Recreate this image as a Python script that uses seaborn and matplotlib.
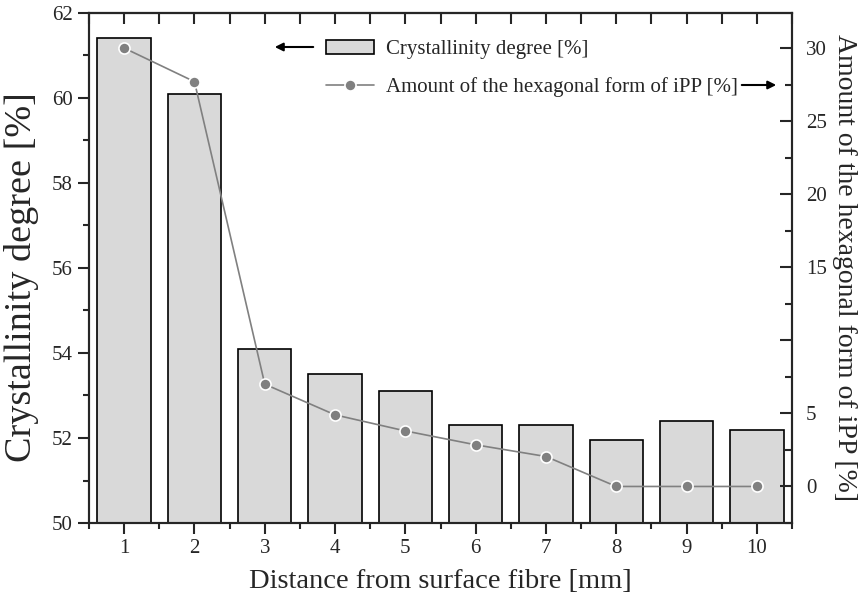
import numpy as np
import pandas as pd
import matplotlib
matplotlib.use("Agg")
import matplotlib.pyplot as plt
import seaborn as sns
from matplotlib.ticker import MultipleLocator, FixedLocator, FixedFormatter

# --- data ---
distance = [1, 2, 3, 4, 5, 6, 7, 8, 9, 10]
crystallinity = [61.4, 60.1, 54.1, 53.5, 53.1, 52.3, 52.3, 51.95, 52.4, 52.2]
hexagonal = [30.0, 27.7, 7.0, 4.9, 3.8, 2.85, 2.05, 0.0, 0.0, 0.0]

df = pd.DataFrame({"Distance": distance, "Crystallinity": crystallinity, "Hexagonal": hexagonal})

sns.set_theme(style="ticks")
plt.rcParams["font.family"] = ["Liberation Serif", "DejaVu Serif"]
plt.rcParams["axes.linewidth"] = 1.5

fig = plt.figure(figsize=(8.61, 6.04), dpi=100)
ax = fig.add_axes([0.1034, 0.1341, 0.8165, 0.8444])

# --- bars (left axis) ---
sns.barplot(data=df, x="Distance", y="Crystallinity", native_scale=True, width=0.76,
            color="#d9d9d9", edgecolor="black", linewidth=1.2, saturation=1,
            label="Crystallinity degree [%]", ax=ax)
ax.set_xlim(0.5, 10.5)
ax.set_ylim(50, 62)
ax.xaxis.set_major_locator(FixedLocator(distance))
ax.xaxis.set_major_formatter(FixedFormatter([str(d) for d in distance]))
ax.xaxis.set_minor_locator(MultipleLocator(0.5))
ax.yaxis.set_major_locator(MultipleLocator(2))
ax.yaxis.set_minor_locator(MultipleLocator(1))
ax.tick_params(axis="both", which="major", direction="out", length=8, width=1.5, labelsize=15)
ax.tick_params(axis="both", which="minor", direction="out", length=4, width=1.5)
ax.set_xlabel("Distance from surface fibre [mm]", fontsize=20.5, labelpad=8)
ax.set_ylabel("Crystallinity degree [%]", fontsize=27.5)
ax.yaxis.set_label_coords(-0.071, 0.482)

# top ticks pointing inward
top = ax.secondary_xaxis("top")
top.xaxis.set_major_locator(FixedLocator(distance))
top.xaxis.set_minor_locator(MultipleLocator(0.5))
top.tick_params(which="major", direction="in", length=8, width=1.5, labeltop=False)
top.tick_params(which="minor", direction="in", length=8, width=1.5)

# --- line (right axis) ---
ax2 = ax.twinx()
sns.lineplot(data=df, x="Distance", y="Hexagonal", color="#808080", linewidth=1.2,
             marker="o", markersize=8, markeredgecolor="white", markeredgewidth=1.2,
             label="Amount of the hexagonal form of iPP [%]", ax=ax2)
ax2.set_ylim(-2.5, 32.4)
ax2.yaxis.set_major_locator(FixedLocator([0, 5, 10, 15, 20, 25, 30]))
ax2.yaxis.set_major_formatter(FixedFormatter(["0", "5", "", "15", "20", "25", "30"]))
ax2.yaxis.set_minor_locator(MultipleLocator(2.5))
ax2.tick_params(axis="y", which="major", direction="in", length=9, width=1.5, labelsize=15, pad=10)
ax2.tick_params(axis="y", which="minor", direction="in", length=5, width=1.5)
ax2.set_ylabel("Amount of the hexagonal form of iPP [%]", fontsize=20, rotation=270, labelpad=22)
ax2.set_xlabel("")
for sp in ax2.spines.values():
    sp.set_linewidth(1.5)

# --- legend with arrows pointing to the axes ---
h1, l1 = ax.get_legend_handles_labels()
h2, l2 = ax2.get_legend_handles_labels()
for a in (ax, ax2):
    if a.get_legend():
        a.get_legend().remove()
fig.legend(h1 + h2, l1 + l2, loc="upper left", bbox_to_anchor=(0.3566, 0.965),
           frameon=False, fontsize=15, handlelength=2.3, handletextpad=0.6,
           labelspacing=0.85)

ax.annotate("", xy=(272 / 861, 1 - 47 / 604), xytext=(316 / 861, 1 - 47 / 604),
            xycoords="figure fraction", textcoords="figure fraction",
            arrowprops=dict(arrowstyle="-|>", color="black", lw=1.5, mutation_scale=12))
ax.annotate("", xy=(779 / 861, 1 - 85 / 604), xytext=(739 / 861, 1 - 85 / 604),
            xycoords="figure fraction", textcoords="figure fraction",
            arrowprops=dict(arrowstyle="-|>", color="black", lw=1.5, mutation_scale=12))

fig.savefig("out.png", dpi=100)
